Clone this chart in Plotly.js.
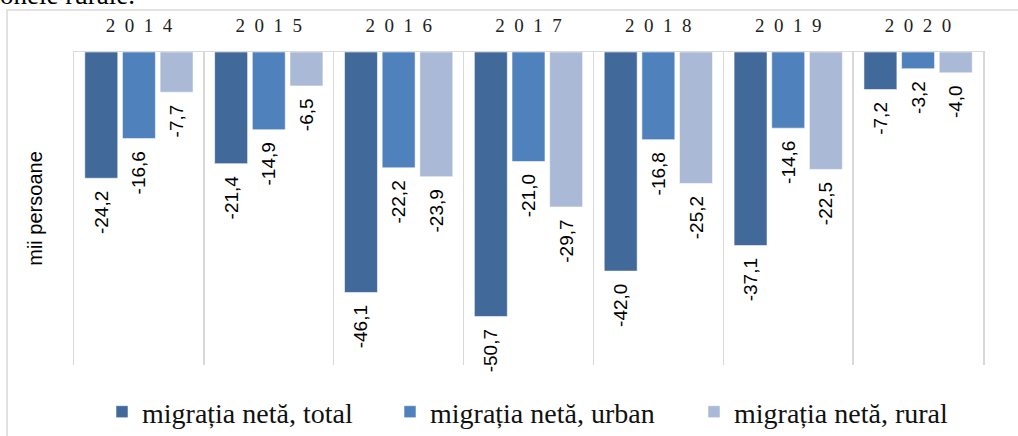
<!DOCTYPE html>
<html>
<head>
<meta charset="utf-8">
<script src="https://cdn.plot.ly/plotly-3.0.1.min.js"></script>
<style>html,body{margin:0;padding:0;background:#fff;}#chart{width:1018px;height:436px;}</style>
</head>
<body>
<div id="chart"></div>
<script>
// ---- data ----
const years = ['2014', '2015', '2016', '2017', '2018', '2019', '2020'];
const seriesNames = ['migrația netă, total', 'migrația netă, urban', 'migrația netă, rural'];
const netTotal = [-24.2, -21.4, -46.1, -50.7, -42.0, -37.1, -7.2];
const netUrban = [-16.6, -14.9, -22.2, -21.0, -16.8, -14.6, -3.2];
const netRural = [-7.7, -6.5, -23.9, -29.7, -25.2, -22.5, -4.0];
const yTitle = 'mii persoane';
const topText = 'zonele rurale.';

// ---- layout helpers ----
const W = 1018, H = 436;
const M = {l: 74, r: 35, t: 52, b: 71, autoexpand: false};
const PW = W - M.l - M.r, PH = H - M.t - M.b;
const px = x => (x - M.l) / PW;
const py = y => (H - M.b - y) / PH;

const colors = ['#41699A', '#4F81BD', '#AAB9D5'];
const values = [netTotal, netUrban, netRural];
const legendWidths = [243, 259, 230];

// invisible spacer keeps the label a little away from the bar end
const labelGap = '<span style="font-size:17px;color:rgba(0,0,0,0)">0</span>';

const traces = values.map((v, i) => ({
  type: 'bar',
  name: seriesNames[i],
  x: years,
  y: v,
  marker: {color: colors[i], line: {color: 'rgba(255,255,255,0.55)', width: 1}},
  texttemplate: '%{y:.1f}' + labelGap,
  textposition: 'outside',
  textangle: -90,
  constraintext: 'none',
  cliponaxis: false,
  textfont: {family: 'Liberation Sans, Arial, sans-serif', size: 19, color: '#000'},
  legendwidth: legendWidths[i],
  hoverinfo: 'skip'
}));

// year labels with letter spacing
const yearLabels = years.map(y => y.split('').join('\u2002'));

const layout = {
  width: W, height: H,
  margin: M,
  paper_bgcolor: '#fff',
  plot_bgcolor: '#fff',
  separators: ', ',
  barmode: 'group',
  bargap: 0.13,
  bargroupgap: 0.125,
  showlegend: true,
  legend: {
    orientation: 'h',
    x: px(102), xanchor: 'left',
    y: py(412), yanchor: 'middle',
    font: {family: 'Liberation Serif, Times New Roman, serif', size: 28, color: '#111'},
    bgcolor: 'rgba(0,0,0,0)',
    traceorder: 'normal'
  },
  xaxis: {
    type: 'category',
    side: 'top',
    tickson: 'boundaries',
    tickvals: years,
    ticktext: yearLabels,
    ticks: '',
    showgrid: true,
    gridcolor: '#D9D9D9',
    gridwidth: 1.5,
    showline: true,
    linecolor: '#D9D9D9',
    linewidth: 1.5,
    zeroline: false,
    ticklabelstandoff: 11,
    tickfont: {family: 'Liberation Serif, Times New Roman, serif', size: 19, color: '#222'},
    automargin: false,
    fixedrange: true
  },
  yaxis: {
    range: [-60, 0],
    showticklabels: false,
    showgrid: false,
    zeroline: false,
    ticks: '',
    showline: true,
    mirror: true,
    linecolor: '#D9D9D9',
    linewidth: 1.5,
    title: {text: yTitle, font: {family: 'Liberation Sans, Arial, sans-serif', size: 20, color: '#000'}, standoff: 24},
    automargin: false,
    fixedrange: true
  },
  shapes: [{
    type: 'rect', xref: 'paper', yref: 'paper',
    x0: px(7), x1: px(1040), y0: py(460), y1: py(10),
    line: {color: '#D9D9D9', width: 1.5},
    fillcolor: 'rgba(0,0,0,0)',
    layer: 'below'
  }],
  annotations: [{
    text: topText, xref: 'paper', yref: 'paper',
    x: px(-14), xanchor: 'left',
    y: py(12), yanchor: 'bottom',
    showarrow: false,
    font: {family: 'Liberation Serif, Times New Roman, serif', size: 27, color: '#000'}
  }]
};

Plotly.newPlot('chart', traces, layout, {staticPlot: true, displayModeBar: false});
</script>
</body>
</html>
